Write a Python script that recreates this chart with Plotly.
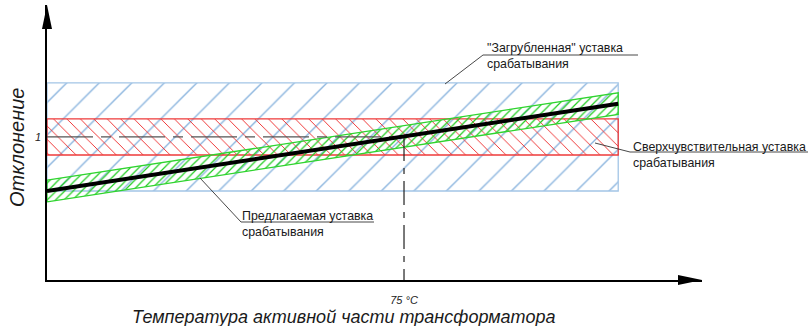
import plotly.graph_objects as go

# ---------------- data ----------------
box_temps = [0, 120]                 # temperature span of the setting bands, °C
coarse_setting = [0.7, 1.3]          # "Загрубленная" уставка (low, high)
sensitive_setting = [0.9, 1.1]       # Сверхчувствительная уставка (low, high)
proposed_temps = [0, 120]            # °C
proposed_setting = [0.70, 1.185]     # предлагаемая уставка (centre line)
proposed_upper = [0.76, 1.245]
proposed_lower = [0.64, 1.125]
nominal_value = 1.0
nominal_temp = 75
y_tick_vals = [1]
y_tick_text = ["1"]
x_tick_vals = [75]
x_tick_text = ["75 °C"]

# ---------------- layout geometry (pixels) ----------------
W, H = 808, 326
L, R, T, B = 47, 702, 5, 280          # plot-area edges in px
X_RANGE = [0, 137.6]
Y_RANGE = [0.2056, 1.733]


def px(xp):
    return (xp - L) / (R - L)


def py(yp):
    return (B - yp) / (B - T)


FONT = "Liberation Sans, Arial, sans-serif"
fig = go.Figure()

# coarse (blue) band
fig.add_trace(go.Scatter(
    x=[box_temps[0], box_temps[1], box_temps[1], box_temps[0], box_temps[0]],
    y=[coarse_setting[0], coarse_setting[0], coarse_setting[1], coarse_setting[1], coarse_setting[0]],
    mode="lines", fill="toself", fillcolor="rgba(0,0,0,0)",
    fillpattern=dict(shape="/", size=23, solidity=0.06, fgcolor="#8ab4de",
                     bgcolor="rgba(0,0,0,0)", fillmode="replace"),
    line=dict(color="#a3c5e6", width=1.3), hoverinfo="skip", showlegend=False))

# sensitive (red) band
fig.add_trace(go.Scatter(
    x=[box_temps[0], box_temps[1], box_temps[1], box_temps[0], box_temps[0]],
    y=[sensitive_setting[0], sensitive_setting[0], sensitive_setting[1], sensitive_setting[1], sensitive_setting[0]],
    mode="lines", fill="toself", fillcolor="rgba(0,0,0,0)",
    fillpattern=dict(shape="\\", size=9.5, solidity=0.1, fgcolor="#ee3030",
                     bgcolor="rgba(0,0,0,0)", fillmode="replace"),
    line=dict(color="#ee3b3b", width=1.3), hoverinfo="skip", showlegend=False))

# proposed (green) band
fig.add_trace(go.Scatter(
    x=[proposed_temps[0], proposed_temps[1], proposed_temps[1], proposed_temps[0], proposed_temps[0]],
    y=[proposed_lower[0], proposed_lower[1], proposed_upper[1], proposed_upper[0], proposed_lower[0]],
    mode="lines", fill="toself", fillcolor="rgba(0,0,0,0)",
    fillpattern=dict(shape="/", size=6, solidity=0.2, fgcolor="#1fcc1f",
                     bgcolor="rgba(0,0,0,0)", fillmode="replace"),
    line=dict(color="#2fd42f", width=1.3), hoverinfo="skip", showlegend=False))

# nominal dashed line
fig.add_trace(go.Scatter(
    x=[0, nominal_temp], y=[nominal_value, nominal_value], mode="lines",
    line=dict(color="#555555", width=1.2, dash="46px,8px,10px,8px"),
    hoverinfo="skip", showlegend=False))

# vertical dashed line at 75 °C
fig.add_trace(go.Scatter(
    x=[nominal_temp, nominal_temp], y=[nominal_value, Y_RANGE[0]], mode="lines",
    line=dict(color="#222222", width=1.2, dash="24px,7px,6px,7px"),
    hoverinfo="skip", showlegend=False))

# proposed centre line
fig.add_trace(go.Scatter(
    x=proposed_temps, y=proposed_setting, mode="lines",
    line=dict(color="#000000", width=4), hoverinfo="skip", showlegend=False))

shapes = []
# arrowheads
shapes.append(dict(type="path", xref="paper", yref="paper",
                   path=f"M {px(47)} {py(5)} L {px(42)} {py(29)} L {px(52)} {py(29)} Z",
                   fillcolor="black", line=dict(width=0)))
shapes.append(dict(type="path", xref="paper", yref="paper",
                   path=f"M {px(702)} {py(280)} L {px(678)} {py(275)} L {px(678)} {py(285)} Z",
                   fillcolor="black", line=dict(width=0)))

LEAD = dict(color="#333333", width=0.9)
# leader lines + underlines
for (x0, y0, x1, y1) in [
    (445, 84, 483, 55), (483, 55, 638, 55),           # Загрубленная
    (595, 143, 630, 152), (630, 152, 808, 152),       # Сверхчувствительная
    (200, 178, 241, 222), (241, 222, 374, 222),       # Предлагаемая
]:
    shapes.append(dict(type="line", xref="paper", yref="paper",
                       x0=px(x0), y0=py(y0), x1=px(x1), y1=py(y1), line=LEAD))

annotations = []


def note(text, xpx, ypx, size=12.4, italic=False, xanchor="left", angle=0):
    annotations.append(dict(
        text=text, xref="paper", yref="paper", x=px(xpx), y=py(ypx),
        xanchor=xanchor, yanchor="middle", showarrow=False, align="left",
        textangle=angle,
        font=dict(family=FONT, size=size, color="#1a1a1a",
                  style="italic" if italic else "normal")))


note('"Загрубленная" уставка<br>срабатывания', 485, 56)
note("Сверхчувствительная уставка<br>срабатывания", 631, 154.5)
note("Предлагаемая уставка<br>срабатывания", 240, 224)
note("Температура активной части трансформатора", 343, 317.5, size=18, italic=True, xanchor="center")
note("Отклонение", 17, 148, size=20, italic=True, xanchor="center", angle=-90)

fig.update_layout(
    width=W, height=H,
    margin=dict(l=L, r=W - R, t=T, b=H - B, autoexpand=False),
    paper_bgcolor="white", plot_bgcolor="white",
    shapes=shapes, annotations=annotations,
    xaxis=dict(range=X_RANGE, showgrid=False, zeroline=False, showline=True, automargin=False,
               linecolor="black", linewidth=1.5, tickvals=x_tick_vals, ticktext=x_tick_text,
               ticks="", ticklabelstandoff=9,
               tickfont=dict(family=FONT, size=11, color="#222", style="italic")),
    yaxis=dict(range=Y_RANGE, showgrid=False, zeroline=False, showline=True, automargin=False,
               linecolor="black", linewidth=1.5, tickvals=y_tick_vals, ticktext=y_tick_text,
               ticks="", ticklabelstandoff=2,
               tickfont=dict(family=FONT, size=11, color="#222", style="italic")),
)

fig.write_html("out.html", config={"displayModeBar": False},
               post_script="document.body.style.margin='0';document.body.style.overflow='hidden';")
